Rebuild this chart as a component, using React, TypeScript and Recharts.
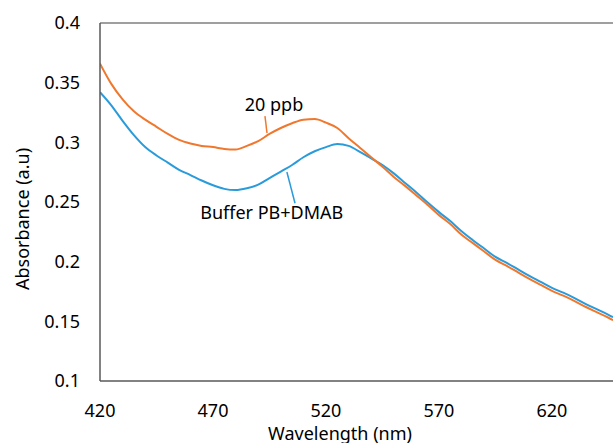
import React from "react";
import {Label, Line, LineChart, ReferenceDot, ReferenceLine, XAxis, YAxis} from "recharts";

const wavelength = [420, 425, 430, 435, 440, 445, 450, 455, 460, 465, 470, 475, 480, 485, 490, 495, 500, 505, 510, 515,
    520, 525, 530, 535, 540, 545, 550, 555, 560, 565, 570, 575, 580, 585, 590, 595, 600, 605, 610, 615, 620, 625, 630,
    635, 640, 645, 647];
const ppb20 = [0.366, 0.349, 0.336, 0.326, 0.319, 0.313, 0.307, 0.302, 0.299, 0.297, 0.296, 0.2945, 0.294, 0.297, 0.301,
    0.307, 0.312, 0.316, 0.319, 0.3195, 0.3165, 0.312, 0.3035, 0.2955, 0.2875, 0.2795, 0.271, 0.2635, 0.2555, 0.2475,
    0.239, 0.2315, 0.2225, 0.2155, 0.2085, 0.2015, 0.1965, 0.191, 0.1855, 0.1805, 0.1755, 0.1715, 0.167, 0.162, 0.1575,
    0.153, 0.151];
const buffer = [0.342, 0.331, 0.318, 0.306, 0.296, 0.289, 0.283, 0.277, 0.2726, 0.268, 0.264, 0.261, 0.260, 0.2615,
    0.2645, 0.270, 0.2755, 0.281, 0.2875, 0.2925, 0.296, 0.2985, 0.297, 0.292, 0.2865, 0.281, 0.274, 0.266, 0.258,
    0.2495, 0.2415, 0.234, 0.2255, 0.218, 0.211, 0.204, 0.199, 0.1935, 0.188, 0.183, 0.178, 0.174, 0.1695, 0.1645,
    0.160, 0.1555, 0.1535];
const xTicks = [420, 470, 520, 570, 620];
const yTicks = [0.1, 0.15, 0.2, 0.25, 0.3, 0.35, 0.4];

const data = wavelength.map((w, i) => ({w, ppb: ppb20[i], buf: buffer[i]}));

const font = "'Noto Sans', sans-serif";
const tickStyle = {fontSize: 18, fill: "#000", fontFamily: font};

export default function App() {
    return <div style={{position: "absolute", left: 0, top: 0}}>
        <LineChart width={613} height={443} data={data} margin={{top: 23, right: 0, bottom: 32, left: 0}}
                   style={{fontFamily: font}}>
            <XAxis dataKey="w" type="number" domain={[420, 647]} ticks={xTicks} tickLine={false} tickSize={0}
                   tickMargin={23} height={30} tick={tickStyle} axisLine={{stroke: "#595959", strokeWidth: 1.5}}
                   allowDataOverflow>
                <Label content={({viewBox}: any) =>
                    <text x={340} y={viewBox.y + 59} textAnchor="middle" fontSize={18} fill="#000"
                          fontFamily={font}>Wavelength (nm)</text>}/>
            </XAxis>
            <YAxis type="number" domain={[0.1, 0.4]} ticks={yTicks} tickLine={false} tickSize={0} tickMargin={20}
                   width={100} tick={tickStyle} axisLine={{stroke: "#595959", strokeWidth: 1.5}}
                   allowDataOverflow>
                <Label content={({viewBox}: any) => {
                    const x = viewBox.x + 22;
                    const y = viewBox.y + viewBox.height / 2 + 17;
                    return <text x={x} y={y} transform={`rotate(-90, ${x}, ${y})`} textAnchor="middle"
                                 dominantBaseline="central" fontSize={18} fill="#000"
                                 fontFamily={font}>Absorbance (a.u)</text>;
                }}/>
            </YAxis>
            <ReferenceLine y={0.4} stroke="#7f7f7f" strokeWidth={1.5}/>
            <Line type="monotone" dataKey="buf" stroke="#2A9BDA" strokeWidth={2} dot={false}
                  isAnimationActive={false}/>
            <Line type="monotone" dataKey="ppb" stroke="#F0782E" strokeWidth={2} dot={false}
                  isAnimationActive={false}/>
            <ReferenceLine segment={[{x: 493.9, y: 0.3078}, {x: 493.0, y: 0.322}]} stroke="#F0782E" strokeWidth={1.5}/>
            <ReferenceLine segment={[{x: 502.7, y: 0.2751}, {x: 506.3, y: 0.249}]} stroke="#2A9BDA" strokeWidth={1.5}/>
            <ReferenceDot x={497} y={0.3313} r={0} fill="none" stroke="none"
                          label={{value: "20 ppb", position: "center", fontSize: 18, fill: "#000"}}/>
            <ReferenceDot x={496} y={0.2407} r={0} fill="none" stroke="none"
                          label={{value: "Buffer PB+DMAB", position: "center", fontSize: 18, fill: "#000"}}/>
        </LineChart>
    </div>;
}
